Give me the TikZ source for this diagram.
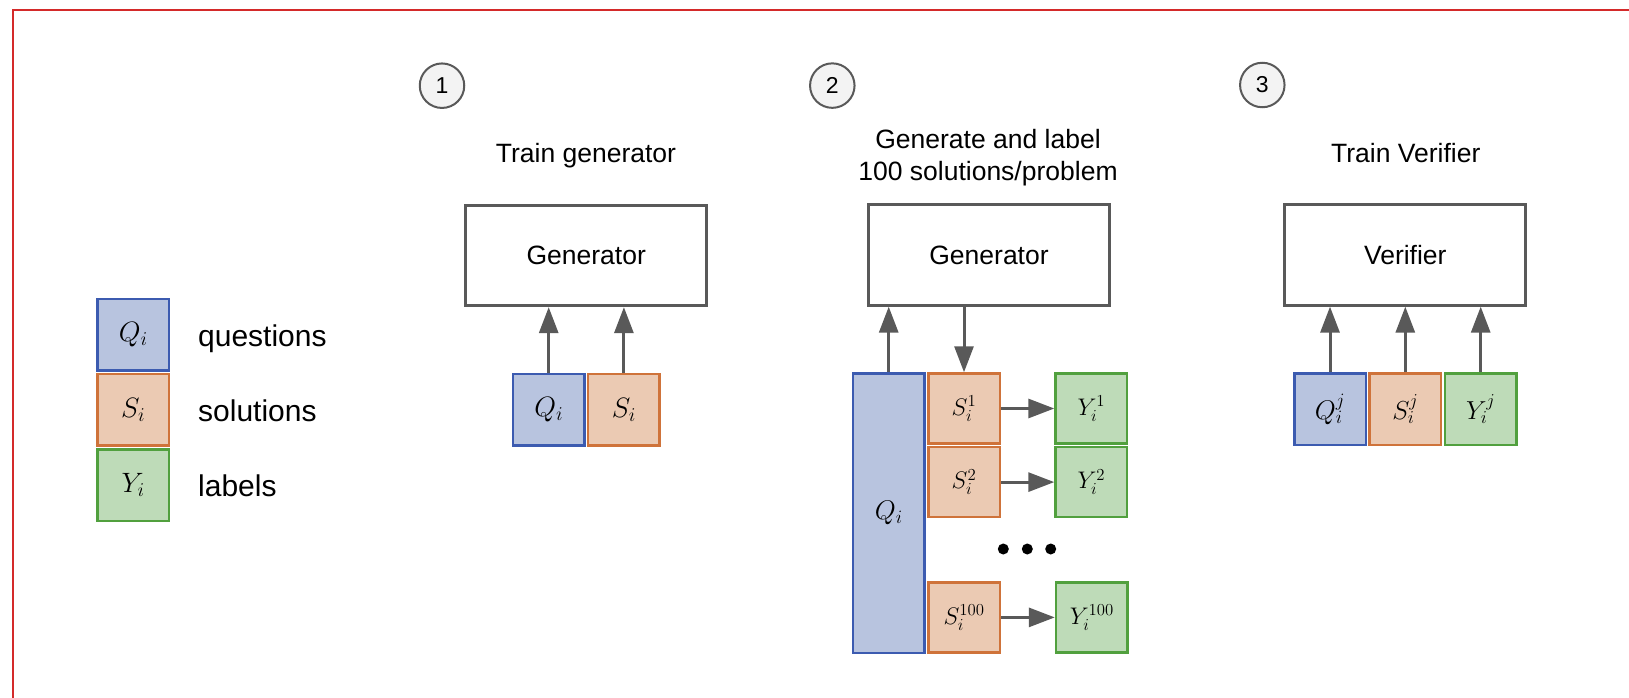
\RequirePackage{fix-cm}
\documentclass[tikz,border=0pt]{standalone}
\usepackage[no-math]{fontspec}
\setmainfont{Liberation Sans}
\usetikzlibrary{arrows.meta}

\definecolor{qfill}{HTML}{B8C4DF}
\definecolor{qline}{HTML}{3C5BB0}
\definecolor{sfill}{HTML}{EBCAB3}
\definecolor{sline}{HTML}{CF733A}
\definecolor{yfill}{HTML}{BEDBB8}
\definecolor{yline}{HTML}{51A03E}
\definecolor{ink}{HTML}{595959}
\definecolor{stepfill}{HTML}{F3F3F3}
\definecolor{framered}{HTML}{D42A2A}

\begin{document}
\begin{tikzpicture}[x=1pt,y=-1pt,
  cell/.style={minimum width=71.5pt, minimum height=71.5pt, inner sep=0pt,
    line width=2.5pt, font=\fontsize{28}{30}\selectfont},
  qcell/.style={cell, draw=qline, fill=qfill},
  scell/.style={cell, draw=sline, fill=sfill},
  ycell/.style={cell, draw=yline, fill=yfill},
  smallcell/.style={minimum height=70pt, font=\fontsize{24}{26}\selectfont},
  model/.style={draw=ink, line width=2.8pt, minimum width=241pt,
    minimum height=100.5pt, inner sep=0pt, font=\fontsize{26.5}{32}\selectfont},
  heading/.style={anchor=base, inner sep=0pt, font=\fontsize{26.5}{32}\selectfont},
  legendtext/.style={anchor=base west, inner sep=0pt, font=\fontsize{30}{34}\selectfont},
  stepnum/.style={circle, draw=ink, fill=stepfill, line width=2pt,
    minimum size=44.5pt, inner sep=0pt, font=\fontsize{23}{26}\selectfont},
  flow/.style={draw=ink, line width=3pt, -{Triangle[width=19pt,length=26pt]}},
  dotmark/.style={circle, fill=black, minimum size=11pt, inner sep=0pt},
]
\useasboundingbox (0,0) rectangle (1629,698);

% outer frame
\draw[framered, line width=2pt] (12.7,698) -- (12.7,10) -- (1629,10);

% legend
\node[qcell] (legq) at (133.2,334.6) {$Q_i$};
\node[scell] (legs) at (133.2,409.6) {$S_i$};
\node[ycell] (legy) at (133.2,485) {$Y_i$};
\node[legendtext] (legqt) at (198,346) {questions};
\node[legendtext] (legst) at (198,421.5) {solutions};
\node[legendtext] (legyt) at (198,496.5) {labels};

% step 1: train generator
\node[stepnum] (n1) at (442,85.7) {1};
\node[heading] (t1) at (586,162.5) {Train generator};
\node[model] (gen1) at (586.2,255.5) {Generator};
\node[qcell] (q1) at (548.7,409.6) {$Q_i$};
\node[scell] (s1) at (623.9,409.6) {$S_i$};
\draw[flow] (q1.north) -- (q1.north |- gen1.south);
\draw[flow] (s1.north) -- (s1.north |- gen1.south);

% step 2: generate and label
\node[stepnum] (n2) at (832.3,85.6) {2};
\node[heading] (t2a) at (988,148) {Generate and label};
\node[heading] (t2b) at (988,180) {100 solutions/problem};
\node[model] (gen2) at (989,255) {Generator};
\node[qcell, minimum height=279.5pt, font=\fontsize{27}{29}\selectfont] (q2) at (888.7,513.2) {$Q_i$};
\node[scell, smallcell] (s2a) at (964,408.5) {$S_i^{1}$};
\node[scell, smallcell] (s2b) at (964,482.1) {$S_i^{2}$};
\node[scell, smallcell] (s2c) at (964,617.4) {$S_i^{100}$};
\node[ycell, smallcell] (y2a) at (1091.3,408.5) {$Y_i^{1}$};
\node[ycell, smallcell] (y2b) at (1091.3,482.1) {$Y_i^{2}$};
\node[ycell, smallcell] (y2c) at (1091.8,617.4) {$Y_i^{100}$};
\draw[flow] (q2.north) -- (q2.north |- gen2.south);
\draw[flow] (s2a.north |- gen2.south) -- (s2a.north);
\draw[flow] (s2a.east) -- (y2a.west);
\draw[flow] (s2b.east) -- (y2b.west);
\draw[flow] (s2c.east) -- (y2c.west);
\node[dotmark] (d1) at (1003.3,549) {};
\node[dotmark] (d2) at (1027.3,549) {};
\node[dotmark] (d3) at (1050.7,549) {};

% step 3: train verifier
\node[stepnum] (n3) at (1262.3,85) {3};
\node[heading] (t3) at (1405.8,162) {Train Verifier};
\node[model] (ver) at (1405.3,255) {Verifier};
\node[qcell, font=\fontsize{27}{29}\selectfont] (q3) at (1330,409.2) {$Q_i^{j}$};
\node[scell, font=\fontsize{26}{28}\selectfont] (s3) at (1405.3,409.2) {$S_i^{j}$};
\node[ycell, font=\fontsize{26}{28}\selectfont] (y3) at (1480.7,409.2) {$Y_i^{j}$};
\draw[flow] (q3.north) -- (q3.north |- ver.south);
\draw[flow] (s3.north) -- (s3.north |- ver.south);
\draw[flow] (y3.north) -- (y3.north |- ver.south);
\end{tikzpicture}
\end{document}
